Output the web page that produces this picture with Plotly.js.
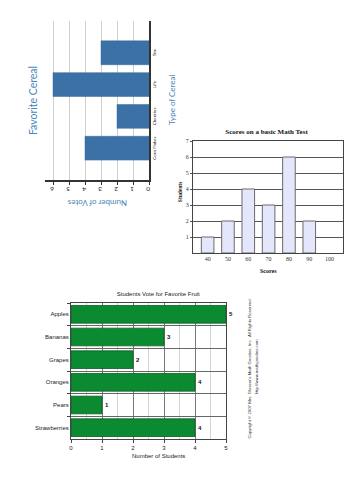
<!DOCTYPE html>
<html>
<head>
<meta charset="utf-8">
<script src="https://cdn.plot.ly/plotly-3.0.1.min.js"></script>
<style>
  html, body { margin:0; padding:0; background:#fff; width:354px; height:500px; overflow:hidden; }
  #c1 { position:absolute; left:15px; top:220px; width:210px; height:175px; transform-origin:0 0; transform:rotate(-90deg); }
  #c2 { position:absolute; left:170px; top:120px; width:184px; height:165px; }
  #c3 { position:absolute; left:0px; top:280px; width:354px; height:200px; }
</style>
</head>
<body>
<div id="c1"></div>
<div id="c2"></div>
<div id="c3"></div>
<script>
// ---- Data ----
const cerealCats = ['Corn Flakes', 'Cheerios', 'Life', 'Trix'];
const cerealVotes = [4, 2, 6, 3];

const scoreBins = [40, 50, 60, 70, 80, 90, 100];
const scoreStudents = [1, 2, 4, 3, 6, 2, 0];

const fruits = ['Apples', 'Bananas', 'Grapes', 'Oranges', 'Pears', 'Strawberries'];
const fruitVotes = [5, 3, 2, 4, 1, 4];

const cfg = {staticPlot: true, displayModeBar: false};
const blue = '#4a86b8';

// ---- Chart 1: Favorite Cereal (drawn upright, page-rotated) ----
Plotly.newPlot('c1', [{
  type: 'bar', x: cerealCats, y: cerealVotes, width: 0.75,
  marker: {color: '#3c71a7', line: {color: '#35689c', width: 0.5}},
  hoverinfo: 'skip'
}], {
  width: 210, height: 175,
  margin: {l: 40, r: 10.7, t: 30, b: 40.7},
  paper_bgcolor: 'rgba(0,0,0,0)', plot_bgcolor: 'rgba(0,0,0,0)',
  showlegend: false,
  title: {text: 'Favorite Cereal', font: {family: 'Lato, Open Sans, sans-serif', size: 10.5, color: blue},
          x: 0.5, xref: 'paper', xanchor: 'center', y: 1 - 18/175, yanchor: 'middle'},
  xaxis: {type: 'category', range: [-1, 4], showline: true, linecolor: '#333', linewidth: 1.5,
          ticks: '', showgrid: false, tickfont: {family: 'Lato, sans-serif', size: 4.5, color: '#222'}},
  yaxis: {range: [0, 6.5], dtick: 1, showgrid: true, gridcolor: '#cfcfcf', gridwidth: 1,
          showline: true, linecolor: '#333', linewidth: 1.5, zeroline: false,
          ticks: 'outside', ticklen: 3, tickcolor: '#333', tickangle: -90,
          tickfont: {family: 'Lato, sans-serif', size: 6.5, color: '#222'}},
  annotations: [
    {text: 'Number of Votes', xref: 'paper', yref: 'paper', x: -0.144, y: 0.5, textangle: -90,
     showarrow: false, xanchor: 'center', yanchor: 'middle',
     font: {family: 'Lato, Open Sans, sans-serif', size: 8, color: blue}},
    {text: 'Type of Cereal', xref: 'paper', yref: 'paper', x: 0.5, y: -0.218,
     showarrow: false, xanchor: 'center', yanchor: 'middle',
     font: {family: 'Lato, Open Sans, sans-serif', size: 8, color: blue}}
  ]
}, cfg);

// ---- Chart 2: Scores on a basic Math Test ----
const serif = 'Liberation Serif, DejaVu Serif, serif';
Plotly.newPlot('c2', [{
  type: 'bar', x: scoreBins, y: scoreStudents, width: 6.2,
  marker: {color: '#e4e6fb', line: {color: '#6a6a6a', width: scoreStudents.map(v => v > 0 ? 1 : 0)}},
  hoverinfo: 'skip'
}], {
  width: 184, height: 165,
  margin: {l: 23.3, r: 10.7, t: 20.7, b: 31.7},
  paper_bgcolor: 'rgba(0,0,0,0)', plot_bgcolor: '#fff',
  showlegend: false,
  title: {text: 'Scores on a basic Math Test', font: {family: serif, size: 7, color: '#111', weight: 'bold'},
          x: 0.49, xref: 'paper', xanchor: 'center', y: 1 - 11.7/165, yanchor: 'middle'},
  xaxis: {range: [32.8, 106.6], tickvals: scoreBins, ticks: '', showgrid: false, zeroline: false,
          showline: true, mirror: true, linecolor: '#444', linewidth: 1,
          tickfont: {family: serif, size: 6, color: '#333'}},
  yaxis: {range: [0, 7], tickvals: [1, 2, 3, 4, 5, 6, 7], showgrid: true, gridcolor: '#555', gridwidth: 1,
          zeroline: false, showline: true, mirror: true, linecolor: '#444', linewidth: 1,
          ticks: 'outside', ticklen: 2, tickcolor: '#555',
          tickfont: {family: serif, size: 6, color: '#333'}},
  annotations: [
    {text: 'Students', xref: 'paper', yref: 'paper', x: -0.089, y: 0.54, textangle: -90,
     showarrow: false, xanchor: 'center', yanchor: 'middle',
     font: {family: serif, size: 5.5, color: '#111', weight: 'bold'}},
    {text: 'Scores', xref: 'paper', yref: 'paper', x: 0.505, y: -0.163,
     showarrow: false, xanchor: 'center', yanchor: 'middle',
     font: {family: serif, size: 6, color: '#111', weight: 'bold'}}
  ]
}, cfg);

// ---- Chart 3: Students Vote for Favorite Fruit ----
const sans = 'Liberation Sans, Arial, sans-serif';
Plotly.newPlot('c3', [{
  type: 'bar', orientation: 'h', y: fruits, x: fruitVotes, width: 0.78,
  marker: {color: '#0b8a31', line: {color: '#0a5f22', width: 0.8}},
  text: fruitVotes.map(String), textposition: 'outside', cliponaxis: false,
  textfont: {family: sans, size: 6, color: '#111', weight: 'bold'},
  hoverinfo: 'skip'
}], {
  width: 354, height: 200,
  margin: {l: 70.7, r: 127.7, t: 22.7, b: 40.7},
  paper_bgcolor: 'rgba(0,0,0,0)', plot_bgcolor: '#fff',
  showlegend: false,
  title: {text: 'Students Vote for Favorite Fruit', font: {family: sans, size: 6, color: '#222'},
          x: 0.563, xref: 'paper', xanchor: 'center', y: 1 - 14/200, yanchor: 'middle'},
  xaxis: {range: [0, 5], dtick: 1, showgrid: true, gridcolor: '#777', gridwidth: 1, zeroline: false,
          showline: true, mirror: true, linecolor: '#444', linewidth: 1,
          ticks: 'outside', ticklen: 3, tickcolor: '#444',
          minor: {dtick: 0.5, showgrid: true, gridcolor: '#d2d2d2', gridwidth: 1},
          tickfont: {family: sans, size: 6, color: '#222'}},
  yaxis: {type: 'category', categoryorder: 'array', categoryarray: fruits, autorange: 'reversed',
          tickson: 'boundaries', ticks: 'outside', ticklen: 3, tickcolor: '#444',
          showgrid: true, gridcolor: '#666', gridwidth: 1,
          showline: true, mirror: true, linecolor: '#444', linewidth: 1,
          tickfont: {family: sans, size: 6, color: '#222'}},
  annotations: [
    {text: 'Number of Students', xref: 'paper', yref: 'paper', x: 0.563, y: -0.127,
     showarrow: false, xanchor: 'center', yanchor: 'middle',
     font: {family: sans, size: 6, color: '#222'}},
    {text: 'Copyright © 2007 Mrs. Glosser\'s Math Goodies, Inc.  All Rights Reserved.',
     xref: 'paper', yref: 'paper', x: 1.152, y: 0.515, textangle: -90,
     showarrow: false, xanchor: 'center', yanchor: 'middle',
     font: {family: sans, size: 4.3, color: '#333'}},
    {text: 'http://www.mathgoodies.com',
     xref: 'paper', yref: 'paper', x: 1.195, y: 0.529, textangle: -90,
     showarrow: false, xanchor: 'center', yanchor: 'middle',
     font: {family: sans, size: 4.3, color: '#333'}}
  ]
}, cfg);
</script>
</body>
</html>
